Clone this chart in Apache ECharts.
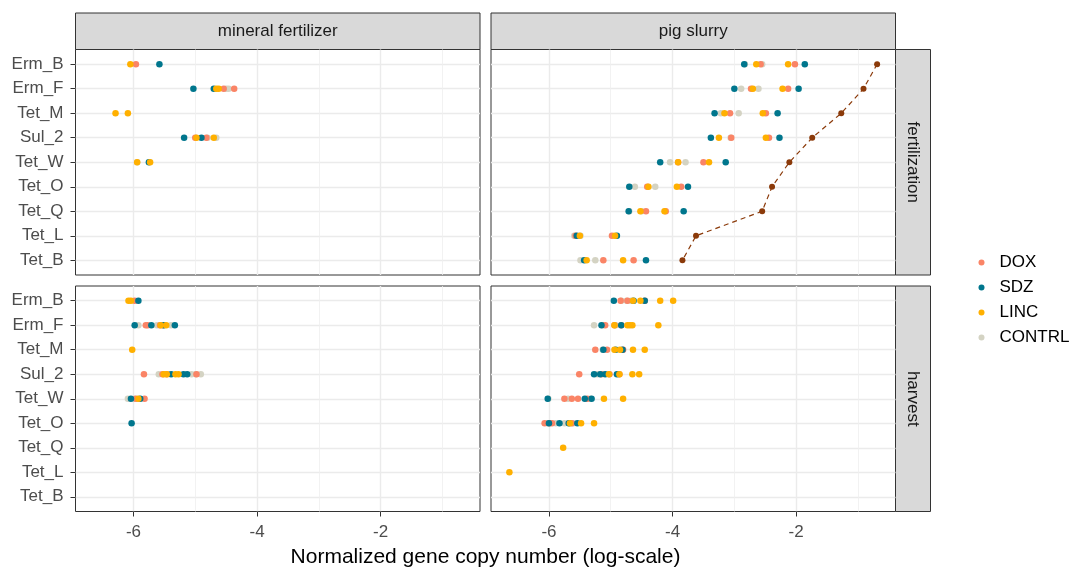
<!DOCTYPE html>
<html><head><meta charset="utf-8">
<script src="https://cdn.jsdelivr.net/npm/echarts@6/dist/echarts.min.js"></script>
<style>html,body{margin:0;padding:0;background:#fff}#c{width:1069px;height:567px}</style>
</head><body><div id="c"></div>
<script>
// ---- data ----
const categories = ['Erm_B','Erm_F','Tet_M','Sul_2','Tet_W','Tet_O','Tet_Q','Tet_L','Tet_B'];
const groups = ['DOX','SDZ','LINC','CONTRL'];
const colTitles = ['mineral fertilizer','pig slurry'];
const rowTitles = ['fertilization','harvest'];
const xTickValues = [-6,-4,-2];
const xMinorValues = [-5,-3,-1];

// mineral fertilizer / fertilization
const mfFert_DOX = [['Erm_B',-5.96],['Erm_F',-4.54],['Erm_F',-4.37],['Sul_2',-5.00],['Sul_2',-4.82]];
const mfFert_SDZ = [['Erm_B',-5.58],['Erm_F',-5.03],['Erm_F',-4.70],['Sul_2',-5.18],['Sul_2',-4.90],['Tet_W',-5.75]];
const mfFert_LINC = [['Erm_B',-6.05],['Erm_F',-4.66],['Erm_F',-4.62],['Tet_M',-6.29],['Tet_M',-6.09],['Sul_2',-4.98],['Sul_2',-4.70],['Tet_W',-5.94],['Tet_W',-5.73]];
const mfFert_CONTRL = [['Erm_F',-4.50],['Erm_F',-4.46],['Sul_2',-4.80],['Sul_2',-4.66],['Tet_W',-5.94]];

// pig slurry / fertilization
const psFert_DOX = [['Erm_B',-2.575],['Erm_B',-2.02],['Erm_F',-2.73],['Erm_F',-2.13],['Tet_M',-3.07],['Tet_M',-2.49],['Sul_2',-3.05],['Sul_2',-2.44],['Tet_W',-3.91],['Tet_W',-3.50],['Tet_O',-4.41],['Tet_O',-3.86],['Tet_Q',-4.43],['Tet_Q',-4.11],['Tet_L',-5.57],['Tet_L',-4.98],['Tet_B',-5.12],['Tet_B',-4.63]];
const psFert_SDZ = [['Erm_B',-2.84],['Erm_B',-1.86],['Erm_F',-3.00],['Erm_F',-1.96],['Tet_M',-3.32],['Tet_M',-2.30],['Sul_2',-3.38],['Sul_2',-2.27],['Tet_W',-4.20],['Tet_W',-3.14],['Tet_O',-4.70],['Tet_O',-3.75],['Tet_Q',-4.71],['Tet_Q',-3.82],['Tet_L',-5.55],['Tet_L',-4.90],['Tet_B',-5.43],['Tet_B',-4.43]];
const psFert_LINC = [['Erm_B',-2.645],['Erm_B',-2.13],['Erm_F',-2.70],['Erm_F',-2.22],['Tet_M',-3.16],['Tet_M',-2.54],['Sul_2',-3.25],['Sul_2',-2.49],['Tet_W',-3.91],['Tet_W',-3.41],['Tet_O',-4.39],['Tet_O',-3.93],['Tet_Q',-4.52],['Tet_Q',-4.13],['Tet_L',-5.50],['Tet_L',-4.93],['Tet_B',-5.39],['Tet_B',-4.80]];
const psFert_CONTRL = [['Erm_B',-2.83],['Erm_B',-2.55],['Erm_F',-2.89],['Erm_F',-2.61],['Tet_M',-3.22],['Tet_M',-2.93],['Sul_2',-3.06],['Tet_W',-4.04],['Tet_W',-3.79],['Tet_O',-4.61],['Tet_O',-4.28],['Tet_Q',-4.70],['Tet_Q',-4.50],['Tet_L',-5.59],['Tet_L',-5.49],['Tet_B',-5.49],['Tet_B',-5.25]];
const psFert_reference = [['Erm_B',-0.69],['Erm_F',-0.91],['Tet_M',-1.27],['Sul_2',-1.74],['Tet_W',-2.11],['Tet_O',-2.39],['Tet_Q',-2.55],['Tet_L',-3.62],['Tet_B',-3.84]];

// mineral fertilizer / harvest
const mfHarv_DOX = [['Erm_B',-5.98],['Erm_F',-5.80],['Erm_F',-5.77],['Erm_F',-5.57],['Erm_F',-5.52],['Sul_2',-5.83],['Sul_2',-5.53],['Sul_2',-5.46],['Sul_2',-4.98],['Tet_W',-5.96],['Tet_W',-5.82]];
const mfHarv_SDZ = [['Erm_B',-5.92],['Erm_F',-5.98],['Erm_F',-5.71],['Erm_F',-5.51],['Erm_F',-5.33],['Sul_2',-5.39],['Sul_2',-5.19],['Sul_2',-5.13],['Tet_W',-6.04],['Tet_W',-5.89],['Tet_O',-6.03]];
const mfHarv_LINC = [['Erm_B',-6.08],['Erm_B',-6.04],['Erm_F',-5.56],['Erm_F',-5.47],['Tet_M',-6.02],['Sul_2',-5.51],['Sul_2',-5.46],['Sul_2',-5.32],['Sul_2',-5.27],['Tet_W',-5.92]];
const mfHarv_CONTRL = [['Erm_F',-5.92],['Erm_F',-5.62],['Erm_F',-5.39],['Sul_2',-5.59],['Sul_2',-5.06],['Sul_2',-4.99],['Sul_2',-4.91],['Tet_W',-6.09],['Tet_W',-5.98]];

// pig slurry / harvest
const psHarv_DOX = [['Erm_B',-4.84],['Erm_B',-4.73],['Erm_B',-4.45],['Erm_F',-5.09],['Erm_F',-4.94],['Erm_F',-4.83],['Tet_M',-5.25],['Tet_M',-5.06],['Tet_M',-4.80],['Sul_2',-5.51],['Sul_2',-5.15],['Sul_2',-5.02],['Sul_2',-4.86],['Tet_W',-5.75],['Tet_W',-5.63],['Tet_W',-5.53],['Tet_W',-5.38],['Tet_O',-6.07],['Tet_O',-5.99],['Tet_O',-5.95],['Tet_O',-5.63]];
const psHarv_SDZ = [['Erm_B',-4.95],['Erm_B',-4.63],['Erm_B',-4.45],['Erm_F',-5.15],['Erm_F',-4.83],['Tet_M',-5.12],['Tet_M',-4.92],['Tet_M',-4.81],['Sul_2',-5.27],['Sul_2',-5.17],['Sul_2',-5.09],['Sul_2',-4.90],['Tet_W',-6.02],['Tet_W',-5.42],['Tet_W',-5.31],['Tet_O',-6.00],['Tet_O',-5.83],['Tet_O',-5.68],['Tet_O',-5.54]];
const psHarv_LINC = [['Erm_B',-4.64],['Erm_B',-4.52],['Erm_B',-4.20],['Erm_B',-3.99],['Erm_F',-4.94],['Erm_F',-4.73],['Erm_F',-4.69],['Erm_F',-4.65],['Erm_F',-4.23],['Tet_M',-4.94],['Tet_M',-4.85],['Tet_M',-4.64],['Tet_M',-4.45],['Sul_2',-5.03],['Sul_2',-4.86],['Sul_2',-4.65],['Sul_2',-4.54],['Tet_W',-5.11],['Tet_W',-4.80],['Tet_O',-5.66],['Tet_O',-5.48],['Tet_O',-5.27],['Tet_Q',-5.77],['Tet_L',-6.64]];
const psHarv_CONTRL = [['Erm_B',-4.83],['Erm_B',-4.74],['Erm_B',-4.67],['Erm_F',-5.27],['Erm_F',-5.13],['Erm_F',-4.92],['Tet_M',-5.13],['Sul_2',-5.22],['Tet_W',-6.01],['Tet_W',-5.69],['Tet_W',-5.33],['Tet_O',-6.02],['Tet_O',-5.89],['Tet_O',-5.75],['Tet_O',-5.61]];

// ---- styling ----
const colors = {DOX:'#FA8466', SDZ:'#00768D', LINC:'#FFB000', CONTRL:'#D4D3C3'};
const refColor = '#8B3A0A';
const FONT = '"Liberation Sans", Arial, sans-serif';

const panels = [
  {grid:0, data:{DOX:mfFert_DOX, SDZ:mfFert_SDZ, LINC:mfFert_LINC, CONTRL:mfFert_CONTRL}},
  {grid:1, data:{DOX:psFert_DOX, SDZ:psFert_SDZ, LINC:psFert_LINC, CONTRL:psFert_CONTRL}, ref:psFert_reference},
  {grid:2, data:{DOX:mfHarv_DOX, SDZ:mfHarv_SDZ, LINC:mfHarv_LINC, CONTRL:mfHarv_CONTRL}},
  {grid:3, data:{DOX:psHarv_DOX, SDZ:psHarv_SDZ, LINC:psHarv_LINC, CONTRL:psHarv_CONTRL}}
];

// x range: data range with 5% expansion (fixed across facets)
let allX = [];
panels.forEach(p => { groups.forEach(g => p.data[g].forEach(d => allX.push(d[1]))); if (p.ref) p.ref.forEach(d => allX.push(d[1])); });
const dMin = Math.min(...allX), dMax = Math.max(...allX);
const xMin = dMin - 0.05*(dMax-dMin), xMax = dMax + 0.05*(dMax-dMin);

const colLeft = [75.5, 491];
const rowTop = [49.5, 286];
const pW = 404.5, pH = 225.5;

const grids = [], xAxes = [], yAxes = [], series = [];
for (let r=0;r<2;r++) for (let c=0;c<2;c++) {
  const gi = r*2+c;
  grids.push({left:colLeft[c], top:rowTop[r], width:pW, height:pH, show:true, borderColor:'#333333', borderWidth:1, backgroundColor:'#ffffff', containLabel:false});
  xAxes.push({type:'value', gridIndex:gi, min:xMin, max:xMax, position:'bottom',
    axisLine:{show:false, onZero:false},
    axisTick:{show:r===1, customValues:xTickValues, length:5, lineStyle:{color:'#333333', width:1}},
    axisLabel:{show:r===1, customValues:xTickValues, margin:12, color:'#4D4D4D', fontSize:17, fontFamily:FONT, formatter:v=>String(v)},
    splitLine:{show:true, lineStyle:{color:'#EBEBEB', width:1.4}}
  });
  yAxes.push({type:'value', gridIndex:gi, min:-0.6, max:categories.length-1+0.6, inverse:true, position:'left',
    axisLine:{show:false, onZero:false},
    axisTick:{show:c===0, customValues:categories.map((_,i)=>i), length:5, lineStyle:{color:'#333333', width:1}},
    axisLabel:{show:c===0, customValues:categories.map((_,i)=>i), margin:12, color:'#4D4D4D', fontSize:17, fontFamily:FONT, formatter:v=>categories[Math.round(v)]},
    splitLine:{show:true, lineStyle:{color:'#EBEBEB', width:1.4}}
  });
}
// minor vertical gridlines
for (let gi=0; gi<4; gi++) {
  xAxes.push({type:'value', gridIndex:gi, min:xMin, max:xMax, axisLine:{show:false, onZero:false}, axisTick:{show:false, customValues:xMinorValues}, axisLabel:{show:false}, splitLine:{show:true, lineStyle:{color:'#EFEFEF', width:0.8}}});
}

const drawOrder = ['CONTRL','DOX','SDZ','LINC'];
panels.forEach(p => {
  drawOrder.forEach(g => {
    series.push({type:'scatter', name:g, xAxisIndex:p.grid, yAxisIndex:p.grid,
      data:p.data[g].map(d => [d[1], categories.indexOf(d[0])]),
      symbol:'circle', symbolSize:6.5, itemStyle:{color:colors[g], opacity:1}, z:3, silent:true, animation:false});
  });
  if (p.ref) {
    series.push({type:'line', name:'reference', xAxisIndex:p.grid, yAxisIndex:p.grid,
      data:p.ref.map(d => [d[1], categories.indexOf(d[0])]),
      symbol:'circle', symbolSize:6, showSymbol:true,
      itemStyle:{color:refColor}, lineStyle:{color:refColor, type:[5,4], width:1.2}, z:4, silent:true, animation:false});
  }
});

const graphics = [];
for (let c=0;c<2;c++) {
  graphics.push({type:'rect', shape:{x:colLeft[c], y:13, width:pW, height:rowTop[0]-13}, style:{fill:'#D9D9D9', stroke:'#333333', lineWidth:1}});
  graphics.push({type:'text', x:colLeft[c]+pW/2, y:31, style:{text:colTitles[c], fill:'#1A1A1A', font:'17px '+FONT, textAlign:'center', textVerticalAlign:'middle'}});
}
for (let r=0;r<2;r++) {
  graphics.push({type:'rect', shape:{x:colLeft[1]+pW, y:rowTop[r], width:35, height:pH}, style:{fill:'#D9D9D9', stroke:'#333333', lineWidth:1}});
  graphics.push({type:'text', x:colLeft[1]+pW+17.5, y:rowTop[r]+pH/2, rotation:-Math.PI/2, style:{text:rowTitles[r], fill:'#1A1A1A', font:'17px '+FONT, textAlign:'center', textVerticalAlign:'middle'}});
}
graphics.push({type:'text', x:(colLeft[0]+colLeft[1]+pW)/2, y:557, style:{text:'Normalized gene copy number (log-scale)', fill:'#000000', font:'21px '+FONT, textAlign:'center', textVerticalAlign:'middle'}});

const chart = echarts.init(document.getElementById('c'), null, {renderer:'canvas'});
chart.setOption({
  animation:false,
  backgroundColor:'#ffffff',
  grid:grids, xAxis:xAxes, yAxis:yAxes, series:series,
  legend:{data:groups, orient:'vertical', left:973.5, top:249, itemWidth:6, itemHeight:6, itemGap:8, icon:'circle',
    selectedMode:false,
    textStyle:{fontSize:17, fontFamily:FONT, color:'#000000', lineHeight:17, padding:[0,0,0,10]}},
  graphic:graphics
});
</script></body></html>
